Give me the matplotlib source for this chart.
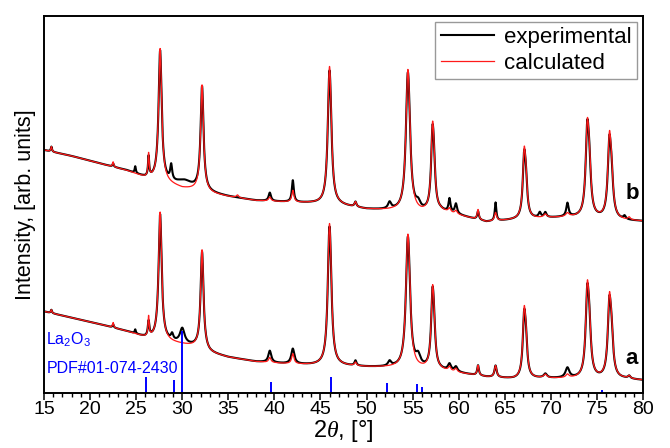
import numpy as np
import matplotlib
matplotlib.use("Agg")
import matplotlib.pyplot as plt

plt.rcParams['font.family'] = ['Liberation Sans', 'DejaVu Sans']
plt.rcParams['mathtext.fontset'] = 'custom'
plt.rcParams['mathtext.rm'] = 'Liberation Sans'
plt.rcParams['mathtext.it'] = 'Liberation Serif:italic'

# ---------------- data (arbitrary intensity units) ----------------
# background nodes shared by experimental and calculated profiles
bg_x = [15, 18, 21, 24, 26, 28, 30, 31.5, 33, 35, 38, 41, 44, 47, 50, 53, 56, 58, 60, 63, 66, 69, 72, 75, 78, 80]
bg_a = [245, 226, 207, 185, 166, 156, 146, 138, 120, 107, 94, 88, 84, 82, 78, 76, 72, 68, 60, 48, 42, 44, 43, 42, 42, 38]
bg_b = [730, 712, 690, 668, 646, 634, 615, 610, 600, 590, 578, 574, 570, 564, 552, 548, 542, 546, 534, 514, 520, 525, 528, 524, 518, 516]

# peaks: position [deg], height above background, FWHM [deg]
calc_a_pos = [15.8, 22.5, 26.35, 27.6, 32.15, 39.5, 42.0, 45.95, 46.08, 48.8, 54.45, 54.6, 57.15, 57.31, 59.0, 59.7, 62.1, 64.0, 67.1, 67.29, 69.4, 71.8, 73.95, 74.17, 76.35, 76.58, 78.5]
calc_a_h   = [10, 15, 60, 385, 300, 15, 30, 310, 150, 10, 290, 145, 195, 95, 12, 10, 30, 35, 175, 88, 10, 10, 235, 118, 210, 103, 8]
calc_a_w   = [0.15, 0.15, 0.15, 0.40, 0.38, 0.3, 0.3, 0.42, 0.42, 0.25, 0.48, 0.48, 0.36, 0.36, 0.3, 0.3, 0.22, 0.28, 0.36, 0.36, 0.4, 0.4, 0.42, 0.42, 0.42, 0.42, 0.3]

exp_a_pos = [15.8, 22.5, 24.9, 26.35, 27.6, 28.9, 30.0, 32.15, 39.5, 42.0, 45.95, 46.08, 48.8, 52.5, 54.45, 54.6, 55.6, 57.15, 57.31, 59.0, 59.7, 62.1, 64.0, 67.1, 67.29, 69.4, 71.8, 73.95, 74.17, 76.35, 76.58, 78.5]
exp_a_h   = [10, 10, 12, 45, 378, 18, 45, 293, 35, 45, 305, 145, 15, 15, 285, 140, 30, 190, 92, 20, 15, 30, 35, 165, 88, 12, 30, 225, 118, 200, 103, 8]
exp_a_w   = [0.15, 0.15, 0.15, 0.2, 0.40, 0.3, 0.6, 0.38, 0.38, 0.4, 0.42, 0.42, 0.25, 0.4, 0.48, 0.48, 0.6, 0.36, 0.36, 0.4, 0.4, 0.22, 0.28, 0.36, 0.36, 0.4, 0.5, 0.42, 0.42, 0.42, 0.42, 0.3]

calc_b_pos = [15.8, 22.5, 26.35, 27.6, 32.15, 36.0, 39.5, 42.0, 45.95, 46.08, 48.8, 54.45, 54.6, 57.15, 57.31, 59.0, 59.7, 62.1, 64.0, 67.1, 67.29, 69.4, 71.8, 73.95, 74.17, 76.35, 76.58, 78.5]
calc_b_h   = [15, 15, 70, 398, 320, 8, 12, 35, 300, 148, 15, 312, 148, 210, 98, 12, 10, 30, 25, 175, 88, 10, 10, 240, 118, 215, 103, 8]
calc_b_w   = [0.15, 0.15, 0.15, 0.40, 0.38, 0.3, 0.3, 0.28, 0.42, 0.42, 0.25, 0.48, 0.48, 0.36, 0.36, 0.3, 0.3, 0.22, 0.28, 0.36, 0.36, 0.4, 0.4, 0.42, 0.42, 0.42, 0.42, 0.3]

exp_b_pos = [15.8, 22.5, 24.9, 26.35, 27.6, 28.8, 30.2, 32.15, 39.5, 42.0, 45.95, 46.08, 48.8, 52.5, 54.45, 54.6, 55.6, 57.15, 57.31, 59.0, 59.7, 62.1, 64.0, 67.1, 67.29, 68.8, 69.4, 71.8, 73.95, 74.17, 76.35, 76.58, 78.0]
exp_b_h   = [15, 10, 20, 60, 390, 45, 22, 312, 25, 65, 292, 143, 15, 20, 302, 148, 20, 200, 98, 40, 30, 25, 55, 165, 88, 15, 15, 40, 235, 118, 205, 100, 10]
exp_b_w   = [0.15, 0.15, 0.15, 0.15, 0.40, 0.25, 2.0, 0.38, 0.3, 0.25, 0.42, 0.42, 0.25, 0.4, 0.48, 0.48, 0.6, 0.36, 0.36, 0.25, 0.3, 0.22, 0.2, 0.36, 0.36, 0.3, 0.3, 0.3, 0.42, 0.42, 0.42, 0.42, 0.3]

# La2O3 reference lines (PDF#01-074-2430)
ref_pos = [26.1, 29.15, 30.0, 39.6, 46.1, 52.2, 55.5, 56.0, 72.3, 75.5]
ref_h   = [47, 40, 185, 33, 47, 30, 28, 17, 3, 8]

# ---------------- profiles ----------------
x = np.linspace(15, 80, 3251)

def profile(bg, pos, h, w):
    y = np.interp(x, bg_x, bg)
    for p, hh, ww in zip(pos, h, w):
        y = y + hh / (1 + ((x - p) / (ww / 2)) ** 2)
    return y

ya_exp = profile(bg_a, exp_a_pos, exp_a_h, exp_a_w)
ya_calc = profile(bg_a, calc_a_pos, calc_a_h, calc_a_w)
yb_exp = profile(bg_b, exp_b_pos, exp_b_h, exp_b_w)
yb_calc = profile(bg_b, calc_b_pos, calc_b_h, calc_b_w)

# ---------------- figure ----------------
fig = plt.figure(figsize=(6.7, 4.48), dpi=100)
ax = fig.add_axes([0.0657, 0.1228, 0.894, 0.8415])

ax.plot(x, yb_exp, color='black', lw=1.5, label='experimental')
ax.plot(x, yb_calc, color='#ff1a1a', lw=0.9, label='calculated')
ax.plot(x, ya_exp, color='black', lw=1.5)
ax.plot(x, ya_calc, color='#ff1a1a', lw=0.9)

ax.vlines(ref_pos, 0, ref_h, color='#0000ff', lw=1.4)

ax.text(15.25, 160, r'La$_2$O$_3$', color='#0000ff', fontsize=11.5, va='center', ha='left')
ax.text(15.25, 75, 'PDF#01-074-2430', color='#0000ff', fontsize=11.5, va='center', ha='left')

ax.text(78.8, 105, 'a', fontsize=16, fontweight='bold', ha='center', va='center')
ax.text(78.8, 600, 'b', fontsize=16, fontweight='bold', ha='center', va='center')

ax.set_xlim(15, 80)
ax.set_ylim(0, 1133)
ax.set_xticks(np.arange(15, 81, 5))
ax.set_xticks(np.arange(15, 81, 1), minor=True)
ax.set_yticks([])
ax.tick_params(axis='x', which='major', direction='out', length=5, width=1.1, labelsize=14, pad=1)
ax.tick_params(axis='x', which='minor', direction='out', length=3, width=1.0)
for s in ax.spines.values():
    s.set_linewidth(1.4)

ax.set_xlabel(r'2$\theta$, [°]', fontsize=17, labelpad=0)
ax.set_ylabel('Intensity, [arb. units]', fontsize=15.5, labelpad=6)

leg = ax.legend(loc='upper right', fontsize=16, frameon=True, fancybox=False,
                edgecolor='#808080', handlelength=2.4, borderaxespad=0.25,
                borderpad=0.25, labelspacing=0.2, handletextpad=0.45)
leg.get_frame().set_linewidth(1.0)

fig.savefig('out.png', dpi=100)
